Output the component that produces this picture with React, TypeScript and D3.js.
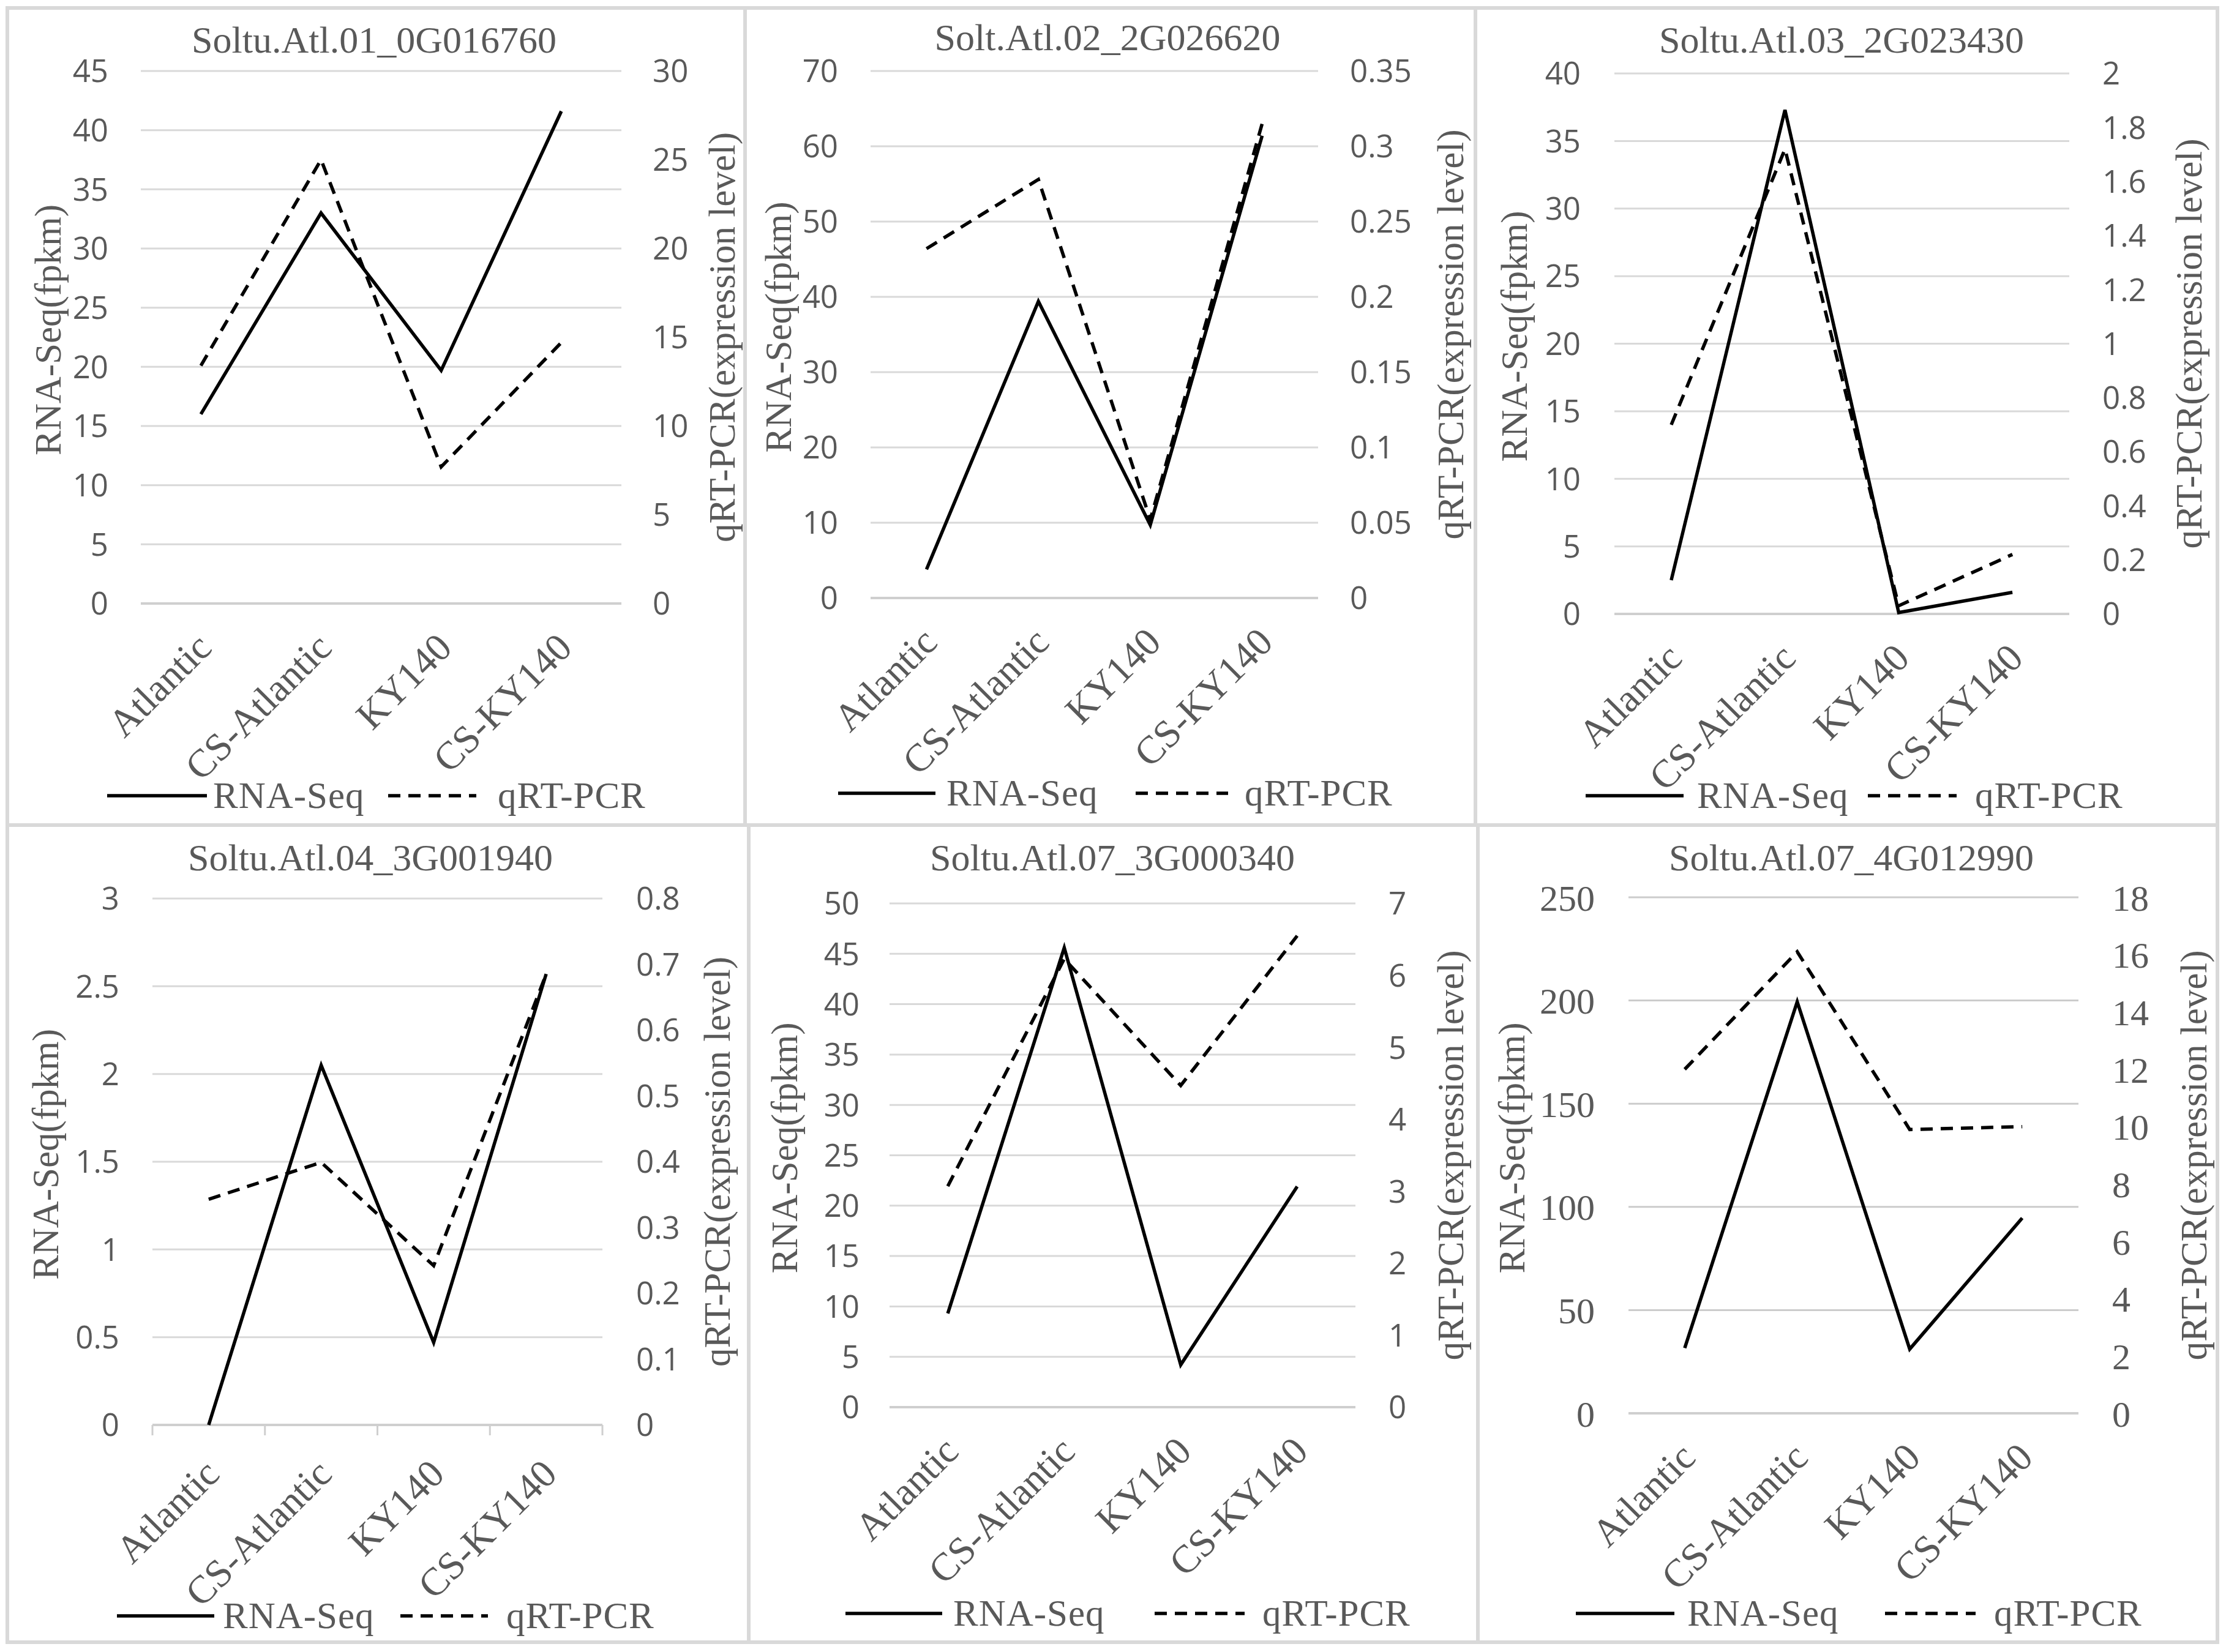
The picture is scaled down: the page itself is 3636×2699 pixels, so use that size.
import * as d3 from "d3";

// categories shared by every panel
const CATEGORIES = ["Atlantic", "CS-Atlantic", "KY140", "CS-KY140"];

const GENE_IDS = [
  "Soltu.Atl.01_0G016760",
  "Solt.Atl.02_2G026620",
  "Soltu.Atl.03_2G023430",
  "Soltu.Atl.04_3G001940",
  "Soltu.Atl.07_3G000340",
  "Soltu.Atl.07_4G012990",
];

// RNA-Seq (fpkm), left axis
const RNA_SEQ_01 = [16.0, 33.0, 19.7, 41.6];
const RNA_SEQ_02 = [3.8, 39.4, 9.7, 61.4];
const RNA_SEQ_03 = [2.5, 37.3, 0.1, 1.6];
const RNA_SEQ_04 = [0, 2.05, 0.47, 2.57];
const RNA_SEQ_05 = [9.3, 45.6, 4.2, 21.9];
const RNA_SEQ_06 = [31.6, 199.4, 31.1, 94.6];

// qRT-PCR (expression level), right axis
const QPCR_01 = [13.4, 25.0, 7.7, 14.7];
const QPCR_02 = [0.232, 0.278, 0.052, 0.315];
const QPCR_03 = [0.7, 1.72, 0.03, 0.22];
const QPCR_04 = [0.343, 0.399, 0.242, 0.685];
const QPCR_05 = [3.07, 6.23, 4.47, 6.55];
const QPCR_06 = [12.0, 16.1, 9.9, 10.0];

// tick labels
const LEFT_TICKS_01 = [0, 5, 10, 15, 20, 25, 30, 35, 40, 45];
const RIGHT_TICKS_01 = [0, 5, 10, 15, 20, 25, 30];
const LEFT_TICKS_02 = [0, 10, 20, 30, 40, 50, 60, 70];
const RIGHT_TICKS_02 = [0, 0.05, 0.1, 0.15, 0.2, 0.25, 0.3, 0.35];
const LEFT_TICKS_03 = [0, 5, 10, 15, 20, 25, 30, 35, 40];
const RIGHT_TICKS_03 = [0, 0.2, 0.4, 0.6, 0.8, 1, 1.2, 1.4, 1.6, 1.8, 2];
const LEFT_TICKS_04 = [0, 0.5, 1, 1.5, 2, 2.5, 3];
const RIGHT_TICKS_04 = [0, 0.1, 0.2, 0.3, 0.4, 0.5, 0.6, 0.7, 0.8];
const LEFT_TICKS_05 = [0, 5, 10, 15, 20, 25, 30, 35, 40, 45, 50];
const RIGHT_TICKS_05 = [0, 1, 2, 3, 4, 5, 6, 7];
const LEFT_TICKS_06 = [0, 50, 100, 150, 200, 250];
const RIGHT_TICKS_06 = [0, 2, 4, 6, 8, 10, 12, 14, 16, 18];

const LEFT_TITLE = "RNA-Seq(fpkm)";
const RIGHT_TITLE = "qRT-PCR(expression level)";
const LEGEND = ["RNA-Seq", "qRT-PCR"];

// geometry of each panel, in page pixels
const LAYOUT = [
  { bx: 12, by: 13, bw: 1205, bh: 1335, x0: 230, x1: 1015, yT: 116, yB: 986, tx: 611, ty: 86, lt: 177, rt: 1066, lat: 78, rat: 1179, ly: 1300, l1: [175, 338], t1: 348, l2: [634, 778], t2: 813, ticks: false, serifTicks: false },
  { bx: 1217, by: 13, bw: 1193, bh: 1335, x0: 1422, x1: 2153, yT: 116, yB: 977, tx: 1809, ty: 82, lt: 1369, rt: 2205, lat: 1271, rat: 2369, ly: 1296, l1: [1369, 1528], t1: 1546, l2: [1855, 2006], t2: 2033, ticks: false, serifTicks: false },
  { bx: 2410, by: 13, bw: 1212, bh: 1335, x0: 2637, x1: 3380, yT: 120, yB: 1003, tx: 3008, ty: 86, lt: 2582, rt: 3434, lat: 2473, rat: 3575, ly: 1300, l1: [2590, 2750], t1: 2772, l2: [3051, 3196], t2: 3226, ticks: false, serifTicks: false },
  { bx: 12, by: 1348, bw: 1211, bh: 1335, x0: 249, x1: 984, yT: 1468, yB: 2328, tx: 605, ty: 1422, lt: 195, rt: 1039, lat: 74, rat: 1171, ly: 2640, l1: [191, 350], t1: 364, l2: [654, 797], t2: 827, ticks: true, serifTicks: false },
  { bx: 1223, by: 1348, bw: 1191, bh: 1335, x0: 1453, x1: 2214, yT: 1476, yB: 2299, tx: 1817, ty: 1422, lt: 1404, rt: 2268, lat: 1281, rat: 2369, ly: 2636, l1: [1381, 1539], t1: 1557, l2: [1886, 2033], t2: 2062, ticks: false, serifTicks: false },
  { bx: 2414, by: 1348, bw: 1208, bh: 1335, x0: 2660, x1: 3395, yT: 1466, yB: 2309, tx: 3024, ty: 1422, lt: 2605, rt: 3450, lat: 2469, rat: 3583, ly: 2636, l1: [2574, 2735], t1: 2756, l2: [3079, 3227], t2: 3257, ticks: false, serifTicks: true },
];

const PANELS = [
  { title: GENE_IDS[0], rna: RNA_SEQ_01, qpcr: QPCR_01, left: LEFT_TICKS_01, right: RIGHT_TICKS_01 },
  { title: GENE_IDS[1], rna: RNA_SEQ_02, qpcr: QPCR_02, left: LEFT_TICKS_02, right: RIGHT_TICKS_02 },
  { title: GENE_IDS[2], rna: RNA_SEQ_03, qpcr: QPCR_03, left: LEFT_TICKS_03, right: RIGHT_TICKS_03 },
  { title: GENE_IDS[3], rna: RNA_SEQ_04, qpcr: QPCR_04, left: LEFT_TICKS_04, right: RIGHT_TICKS_04 },
  { title: GENE_IDS[4], rna: RNA_SEQ_05, qpcr: QPCR_05, left: LEFT_TICKS_05, right: RIGHT_TICKS_05 },
  { title: GENE_IDS[5], rna: RNA_SEQ_06, qpcr: QPCR_06, left: LEFT_TICKS_06, right: RIGHT_TICKS_06 },
];

const SERIF = "'Liberation Serif', 'Times New Roman', serif";
const SANS = "'Open Sans', 'Liberation Sans', sans-serif";
const TEXT = "#595959";
const GRID = "#d9d9d9";
const DASH = "20,13";

function Panel({ p, g }: { p: (typeof PANELS)[number]; g: (typeof LAYOUT)[number] }) {
  const x = d3.scalePoint<string>().domain(CATEGORIES).range([g.x0, g.x1]).padding(0.5);
  const band = (g.x1 - g.x0) / CATEGORIES.length;
  const yL = d3.scaleLinear().domain([0, d3.max(p.left)!]).range([g.yB, g.yT]);
  const yR = d3.scaleLinear().domain([0, d3.max(p.right)!]).range([g.yB, g.yT]);

  const rnaLine = d3
    .line<number>()
    .x((_, i) => x(CATEGORIES[i])!)
    .y((d) => yL(d));
  const qLine = d3
    .line<number>()
    .x((_, i) => x(CATEGORIES[i])!)
    .y((d) => yR(d));

  const tickFont = g.serifTicks ? SERIF : SANS;
  const tickSize = g.serifTicks ? 60 : 51;
  const midY = (g.yT + g.yB) / 2;
  const labelGap = g.ticks ? 52 : 44;

  return (
    <g>
      <rect x={g.bx} y={g.by} width={g.bw} height={g.bh} fill="#fff" stroke={GRID} strokeWidth={6} />
      <text x={g.tx} y={g.ty} textAnchor="middle" fontFamily={SERIF} fontSize={62} fill={TEXT}>
        {p.title}
      </text>

      {/* gridlines */}
      {p.left.map((t) => (
        <line
          key={"g" + t}
          x1={g.x0}
          x2={g.x1}
          y1={yL(t)}
          y2={yL(t)}
          stroke={t === 0 ? "#cfcfcf" : g.serifTicks ? "#cccccc" : GRID}
          strokeWidth={t === 0 ? 4 : 3}
        />
      ))}
      {g.ticks &&
        d3.range(CATEGORIES.length + 1).map((i) => (
          <line
            key={"t" + i}
            x1={g.x0 + band * i}
            x2={g.x0 + band * i}
            y1={g.yB}
            y2={g.yB + 17}
            stroke="#cfcfcf"
            strokeWidth={3}
          />
        ))}

      {/* left ticks */}
      {p.left.map((t) => (
        <text key={"l" + t} x={g.lt} y={yL(t)} dy="0.36em" textAnchor="end" fontFamily={tickFont} fontSize={tickSize} fill={TEXT}>
          {String(t)}
        </text>
      ))}
      {/* right ticks */}
      {p.right.map((t) => (
        <text key={"r" + t} x={g.rt} y={yR(t)} dy="0.36em" textAnchor="start" fontFamily={tickFont} fontSize={tickSize} fill={TEXT}>
          {String(t)}
        </text>
      ))}

      {/* axis titles */}
      <text
        transform={`translate(${g.lat},${midY - 12}) rotate(-90)`}
        dy="0.35em"
        textAnchor="middle"
        fontFamily={SERIF}
        fontSize={61}
        fill={TEXT}
      >
        {LEFT_TITLE}
      </text>
      <text
        transform={`translate(${g.rat},${midY}) rotate(-90)`}
        dy="0.35em"
        textAnchor="middle"
        fontFamily={SERIF}
        fontSize={61}
        fill={TEXT}
      >
        {RIGHT_TITLE}
      </text>

      {/* category labels */}
      {CATEGORIES.map((c) => (
        <text
          key={c}
          transform={`translate(${x(c)! - 11},${g.yB + labelGap}) rotate(-45)`}
          dy="0.7em"
          textAnchor="end"
          fontFamily={SERIF}
          fontSize={64}
          fill={TEXT}
        >
          {c}
        </text>
      ))}

      {/* series */}
      <path d={rnaLine(p.rna)!} fill="none" stroke="#000" strokeWidth={5.5} />
      <path d={qLine(p.qpcr)!} fill="none" stroke="#000" strokeWidth={5.5} strokeDasharray={DASH} />

      {/* legend */}
      <line x1={g.l1[0]} x2={g.l1[1]} y1={g.ly} y2={g.ly} stroke="#000" strokeWidth={5.5} />
      <text x={g.t1} y={g.ly} dy="0.33em" fontFamily={SERIF} fontSize={61} letterSpacing={1} fill={TEXT}>
        {LEGEND[0]}
      </text>
      <line x1={g.l2[0]} x2={g.l2[1]} y1={g.ly} y2={g.ly} stroke="#000" strokeWidth={5.5} strokeDasharray={DASH} />
      <text x={g.t2} y={g.ly} dy="0.33em" fontFamily={SERIF} fontSize={61} letterSpacing={1} fill={TEXT}>
        {LEGEND[1]}
      </text>
    </g>
  );
}

export default function App() {
  return (
    <svg
      width={3636}
      height={2699}
      viewBox="0 0 3636 2699"
      style={{ position: "absolute", left: 0, top: 0, background: "#fff" }}
    >
      <rect x={0} y={0} width={3636} height={2699} fill="#fff" />
      {PANELS.map((p, i) => (
        <Panel key={p.title + i} p={p} g={LAYOUT[i]} />
      ))}
    </svg>
  );
}
